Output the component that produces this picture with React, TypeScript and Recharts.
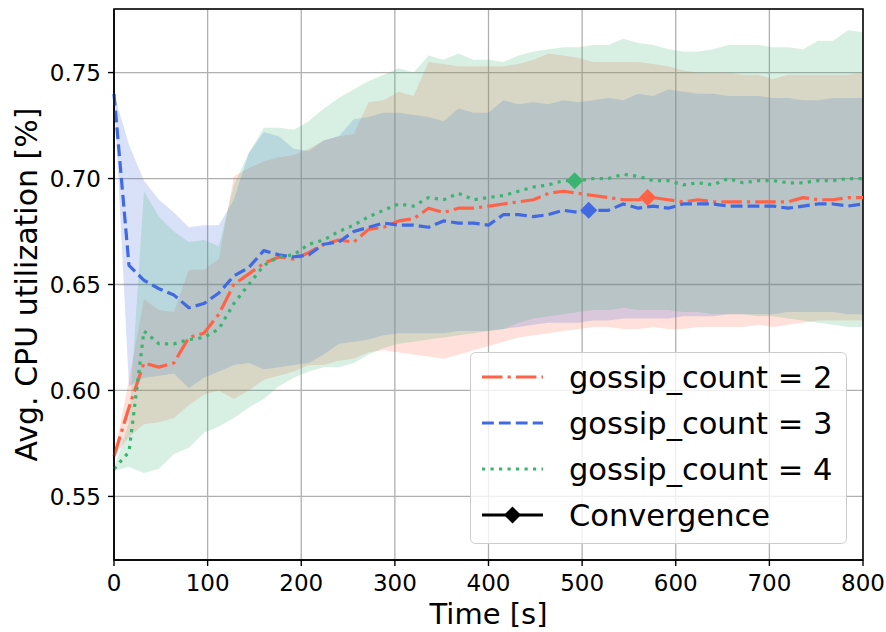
import {
    Area,
    CartesianGrid,
    ComposedChart,
    Legend,
    Line,
    ReferenceArea,
    Scatter,
    XAxis,
    YAxis
} from 'recharts';

// sample times [s]
const TIME = [
    0, 16, 32, 48, 64, 80, 96, 112, 128, 144, 160, 176, 192, 208, 224, 240, 256,
    272, 288, 304, 320, 336, 352, 368, 384, 400, 416, 432, 448, 464, 480, 496, 512,
    528, 544, 560, 576, 592, 608, 624, 640, 656, 672, 688, 704, 720, 736, 752, 768,
    784, 800
];

// gossip_count = 2
const MEAN_2 = [
    0.569, 0.592, 0.613, 0.611, 0.613, 0.625, 0.627, 0.636, 0.650, 0.655, 0.660, 0.663, 0.662,
    0.665, 0.669, 0.671, 0.670, 0.676, 0.677, 0.680, 0.681, 0.686, 0.684, 0.686, 0.686, 0.687,
    0.688, 0.689, 0.690, 0.693, 0.694, 0.693, 0.692, 0.691, 0.690, 0.690, 0.691, 0.690, 0.689,
    0.690, 0.689, 0.689, 0.689, 0.689, 0.689, 0.689, 0.691, 0.690, 0.690, 0.691, 0.691
];
const LOW_2 = [
    0.569, 0.578, 0.584, 0.585, 0.587, 0.593, 0.598, 0.600, 0.596, 0.600, 0.605, 0.607, 0.609,
    0.612, 0.612, 0.614, 0.615, 0.618, 0.619, 0.618, 0.617, 0.616, 0.615, 0.617, 0.619, 0.621,
    0.623, 0.625, 0.626, 0.627, 0.628, 0.629, 0.630, 0.630, 0.629, 0.629, 0.630, 0.629, 0.629,
    0.630, 0.630, 0.630, 0.630, 0.631, 0.630, 0.631, 0.632, 0.633, 0.633, 0.633, 0.633
];
const HIGH_2 = [
    0.569, 0.605, 0.643, 0.638, 0.637, 0.657, 0.657, 0.662, 0.701, 0.705, 0.708, 0.710, 0.711,
    0.714, 0.718, 0.720, 0.721, 0.736, 0.737, 0.741, 0.739, 0.755, 0.754, 0.753, 0.753, 0.753,
    0.753, 0.754, 0.756, 0.759, 0.758, 0.757, 0.755, 0.755, 0.755, 0.755, 0.754, 0.753, 0.751,
    0.750, 0.750, 0.750, 0.749, 0.749, 0.747, 0.749, 0.749, 0.749, 0.749, 0.749, 0.750
];

// gossip_count = 3
const MEAN_3 = [
    0.740, 0.659, 0.652, 0.648, 0.645, 0.639, 0.641, 0.646, 0.654, 0.658, 0.666, 0.664, 0.663,
    0.664, 0.669, 0.670, 0.675, 0.677, 0.679, 0.678, 0.678, 0.677, 0.680, 0.679, 0.679, 0.678,
    0.683, 0.683, 0.682, 0.683, 0.685, 0.684, 0.685, 0.685, 0.688, 0.686, 0.687, 0.686, 0.688,
    0.688, 0.688, 0.687, 0.687, 0.687, 0.687, 0.686, 0.687, 0.688, 0.688, 0.687, 0.688
];
const LOW_3 = [
    0.740, 0.602, 0.606, 0.607, 0.608, 0.601, 0.606, 0.609, 0.612, 0.613, 0.610, 0.611, 0.612,
    0.613, 0.617, 0.622, 0.623, 0.624, 0.626, 0.627, 0.627, 0.627, 0.627, 0.628, 0.628, 0.628,
    0.629, 0.630, 0.631, 0.632, 0.632, 0.632, 0.633, 0.633, 0.634, 0.634, 0.634, 0.634, 0.635,
    0.635, 0.635, 0.636, 0.636, 0.636, 0.636, 0.637, 0.637, 0.637, 0.637, 0.636, 0.636
];
const HIGH_3 = [
    0.740, 0.716, 0.699, 0.690, 0.684, 0.677, 0.678, 0.678, 0.690, 0.712, 0.722, 0.720, 0.714,
    0.713, 0.718, 0.720, 0.728, 0.729, 0.731, 0.731, 0.730, 0.729, 0.727, 0.733, 0.731, 0.731,
    0.737, 0.735, 0.736, 0.735, 0.737, 0.736, 0.737, 0.738, 0.737, 0.740, 0.739, 0.742, 0.741,
    0.740, 0.740, 0.739, 0.739, 0.739, 0.738, 0.738, 0.737, 0.737, 0.738, 0.738, 0.738
];

// gossip_count = 4
const MEAN_4 = [
    0.563, 0.571, 0.628, 0.622, 0.622, 0.624, 0.625, 0.629, 0.641, 0.650, 0.659, 0.663, 0.664,
    0.669, 0.671, 0.675, 0.678, 0.682, 0.685, 0.688, 0.687, 0.691, 0.690, 0.693, 0.690, 0.691,
    0.692, 0.694, 0.696, 0.697, 0.699, 0.699, 0.700, 0.700, 0.702, 0.701, 0.699, 0.699, 0.697,
    0.698, 0.697, 0.700, 0.698, 0.699, 0.699, 0.698, 0.698, 0.699, 0.699, 0.700, 0.700
];
const LOW_4 = [
    0.562, 0.564, 0.561, 0.563, 0.570, 0.573, 0.580, 0.583, 0.587, 0.592, 0.596, 0.602, 0.606,
    0.609, 0.611, 0.611, 0.613, 0.617, 0.620, 0.622, 0.623, 0.624, 0.625, 0.626, 0.627, 0.628,
    0.629, 0.632, 0.634, 0.635, 0.636, 0.637, 0.638, 0.638, 0.639, 0.638, 0.638, 0.638, 0.637,
    0.637, 0.636, 0.636, 0.636, 0.635, 0.635, 0.634, 0.633, 0.632, 0.631, 0.630, 0.630
];
const HIGH_4 = [
    0.563, 0.585, 0.694, 0.682, 0.675, 0.670, 0.671, 0.668, 0.697, 0.712, 0.724, 0.724, 0.723,
    0.727, 0.733, 0.738, 0.742, 0.746, 0.749, 0.752, 0.750, 0.758, 0.756, 0.759, 0.756, 0.756,
    0.755, 0.758, 0.760, 0.761, 0.762, 0.762, 0.763, 0.763, 0.766, 0.764, 0.763, 0.761, 0.760,
    0.760, 0.761, 0.763, 0.763, 0.763, 0.762, 0.762, 0.761, 0.765, 0.765, 0.770, 0.769
];

// convergence points [time, value]
const CONV_2 = [{ t: 570, v: 0.691 }];
const CONV_3 = [{ t: 507, v: 0.685 }];
const CONV_4 = [{ t: 492, v: 0.699 }];

const X_TICKS = [0, 100, 200, 300, 400, 500, 600, 700, 800];
const Y_TICKS = [0.55, 0.6, 0.65, 0.7, 0.75];

const FONT = '"DejaVu Sans", sans-serif';
const LW = 3.2;

const SERIES = [
    { name: 'gossip_count = 2', color: '#ff6347', dash: '20.5 5.1 3.2 5.1', mean: MEAN_2, low: LOW_2, high: HIGH_2, conv: CONV_2 },
    { name: 'gossip_count = 3', color: '#4169e1', dash: '11.8 5.1', mean: MEAN_3, low: LOW_3, high: HIGH_3, conv: CONV_3 },
    { name: 'gossip_count = 4', color: '#3cb371', dash: '3.2 5.3', mean: MEAN_4, low: LOW_4, high: HIGH_4, conv: CONV_4 },
];

const data = TIME.map((t, i) => {
    const row: any = { t };
    SERIES.forEach((s, k) => {
        row[`m${k}`] = s.mean[i];
        row[`b${k}`] = [s.low[i], s.high[i]];
    });
    return row;
});

const Diamond = (props: any) => {
    const { cx, cy, fill } = props;
    const r = 8.5;
    return <polygon points={`${cx},${cy - r} ${cx + r},${cy} ${cx},${cy + r} ${cx - r},${cy}`} fill={fill} />;
};

const YTitle = ({ viewBox }: any) => {
    const cy = viewBox ? viewBox.y + viewBox.height / 2 : 284.5;
    return (
        <text transform={`translate(37, ${cy}) rotate(-90)`} textAnchor="middle" fontSize={30} fontFamily={FONT} fill="#000">
            Avg. CPU utilization [%]
        </text>
    );
};

// legend box, matplotlib style
const LegendBox = () => {
    const rows = [...SERIES.map(s => ({ name: s.name, color: s.color, dash: s.dash, diamond: false })),
        { name: 'Convergence', color: '#000', dash: undefined as any, diamond: true }];
    return (
        <svg width={377} height={192} style={{ display: 'block' }}>
            <rect x={0.5} y={0.5} width={376} height={191} rx={5} fill="rgba(255,255,255,0.8)" stroke="#cccccc" />
            {rows.map((r, k) => {
                const y = 25 + k * 46;
                return (
                    <g key={r.name}>
                        <line x1={12} x2={73} y1={y} y2={y} stroke={r.color} strokeWidth={LW} strokeDasharray={r.dash} />
                        {r.diamond && <Diamond cx={42.5} cy={y} fill="#000" />}
                        <text x={99} y={y + 11} fontSize={30.5} fontFamily={FONT} fill="#000">{r.name}</text>
                    </g>
                );
            })}
        </svg>
    );
};

export default function App() {
    return (
        <div style={{ position: 'absolute', left: 0, top: 0, background: '#fff' }}>
            <ComposedChart width={886} height={632} data={data} margin={{ top: 9, right: 23, bottom: 0, left: 0 }}>
                <CartesianGrid stroke="#b0b0b0" strokeWidth={1.3} />
                <XAxis
                    dataKey="t"
                    type="number"
                    domain={[0, 800]}
                    ticks={X_TICKS}
                    height={72}
                    tickSize={6}
                    tickMargin={9}
                    axisLine={{ stroke: '#000', strokeWidth: 1.4 }}
                    tickLine={{ stroke: '#000', strokeWidth: 1.4 }}
                    tick={{ fill: '#000', fontSize: 23, fontFamily: FONT }}
                    label={{ value: 'Time [s]', position: 'insideBottom', offset: 8, fontSize: 29, fontFamily: FONT, fill: '#000' }}
                />
                <YAxis
                    type="number"
                    domain={[0.52, 0.78]}
                    ticks={Y_TICKS}
                    allowDataOverflow
                    width={114}
                    tickSize={6}
                    tickMargin={7}
                    tickFormatter={(v: number) => v.toFixed(2)}
                    axisLine={{ stroke: '#000', strokeWidth: 1.4 }}
                    tickLine={{ stroke: '#000', strokeWidth: 1.4 }}
                    tick={{ fill: '#000', fontSize: 23, fontFamily: FONT }}
                    label={<YTitle />}
                />
                {SERIES.map((s, k) => (
                    <Area
                        key={`band-${k}`}
                        dataKey={`b${k}`}
                        type="linear"
                        stroke="none"
                        fill={s.color}
                        fillOpacity={0.2}
                        legendType="none"
                        isAnimationActive={false}
                        activeDot={false}
                    />
                ))}
                {SERIES.map((s, k) => (
                    <Line
                        key={`mean-${k}`}
                        dataKey={`m${k}`}
                        name={s.name}
                        type="linear"
                        stroke={s.color}
                        strokeWidth={LW}
                        strokeDasharray={s.dash}
                        strokeLinejoin="round"
                        dot={false}
                        activeDot={false}
                        isAnimationActive={false}
                    />
                ))}
                {SERIES.map((s, k) => (
                    <Scatter
                        key={`conv-${k}`}
                        data={s.conv}
                        dataKey="v"
                        fill={s.color}
                        shape={<Diamond />}
                        legendType="none"
                        isAnimationActive={false}
                    />
                ))}
                <ReferenceArea x1={0} x2={800} y1={0.52} y2={0.78} fill="none" stroke="#000" strokeWidth={1.5} />
                <Legend
                    content={<LegendBox />}
                    layout="vertical"
                    align="center"
                    verticalAlign="middle"
                    wrapperStyle={{ left: 470, top: 352, width: 377, height: 192 }}
                />
            </ComposedChart>
        </div>
    );
}
